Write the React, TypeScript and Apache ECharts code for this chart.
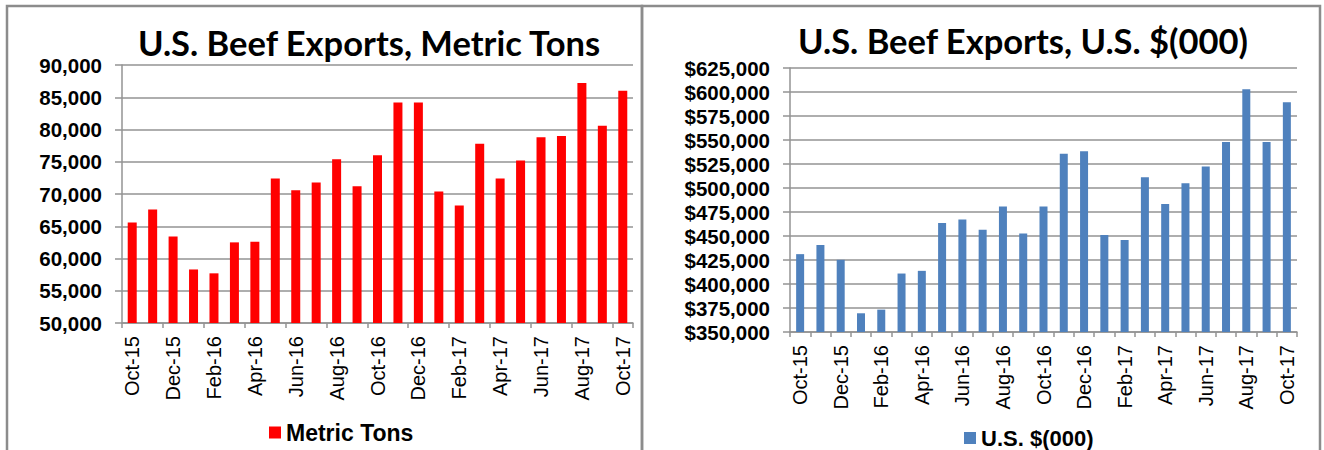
import React, { useEffect, useRef } from "react";
import * as echarts from "echarts";

const months = [
  "Oct-15", "Nov-15", "Dec-15", "Jan-16", "Feb-16", "Mar-16", "Apr-16", "May-16", "Jun-16",
  "Jul-16", "Aug-16", "Sep-16", "Oct-16", "Nov-16", "Dec-16", "Jan-17", "Feb-17", "Mar-17",
  "Apr-17", "May-17", "Jun-17", "Jul-17", "Aug-17", "Sep-17", "Oct-17",
];

const metricTons = [
  65600, 67600, 63400, 58300, 57700, 62500, 62600, 72400, 70600, 71800, 75400, 71200, 76000,
  84200, 84200, 70400, 68200, 77800, 72400, 75200, 78800, 79000, 87200, 80600, 86000,
];

const usdThousands = [
  431100, 440500, 425200, 369500, 373300, 410900, 413700, 463500, 467300, 456500, 480600,
  452700, 480600, 535600, 538400, 451000, 445800, 511200, 483400, 504900, 522400, 547800,
  602800, 547800, 589200,
];

const tonsAxis = { min: 50000, max: 90000, interval: 5000 };
const usdAxis = { min: 350000, max: 625000, interval: 25000 };

const titles = ["U.S. Beef Exports, Metric Tons", "U.S. Beef Exports, U.S. $(000)"];
const seriesNames = ["Metric Tons", "U.S. $(000)"];

const fmt = (v: number) => v.toLocaleString("en-US");

export default function App() {
  const ref = useRef<HTMLDivElement>(null);
  useEffect(() => {
    document.body.style.margin = "0";
    const chart = echarts.init(ref.current!, null, { renderer: "svg" });
    const gridColor = "#939393";
    const labelFont = "'Liberation Sans', Arial, sans-serif";
    const titleFont = "Lato, 'Open Sans', sans-serif";
    const xAxisBase = (tickInterval: number) => ({
      type: "category",
      data: months,
      boundaryGap: true,
      axisLine: { show: true, lineStyle: { color: gridColor, width: 1.5 } },
      axisTick: { show: true, interval: tickInterval, length: 5, lineStyle: { color: gridColor, width: 1.5 } },
      axisLabel: {
        interval: 1,
        rotate: 90,
        margin: 13,
        fontFamily: labelFont,
        fontSize: 20,
        color: "#000",
      },
    });
    const yAxisBase = (ax: any, prefix: string) => ({
      type: "value",
      min: ax.min,
      max: ax.max,
      interval: ax.interval,
      axisLine: { show: true, lineStyle: { color: gridColor, width: 1.5 } },
      axisTick: { show: true, length: 7, lineStyle: { color: gridColor, width: 1.5 } },
      splitLine: { show: true, lineStyle: { color: gridColor, width: 1.5 } },
      axisLabel: {
        margin: 20,
        fontFamily: labelFont,
        fontWeight: "bold",
        fontSize: 20.5,
        color: "#000",
        formatter: (v: number) => prefix + fmt(v),
      },
    });
    chart.setOption({
      animation: false,
      backgroundColor: "#fff",
      title: [
        {
          text: titles[0],
          left: 364,
          top: 20,
          textAlign: "center",
          textStyle: { fontFamily: titleFont, fontWeight: "bold", fontSize: 34.5, color: "#000" },
        },
        {
          text: titles[1],
          left: 1018,
          top: 18,
          textAlign: "center",
          textStyle: { fontFamily: titleFont, fontWeight: "bold", fontSize: 34.5, color: "#000" },
        },
      ],
      legend: [
        {
          data: [seriesNames[0]],
          left: 264,
          top: 416,
          icon: "rect",
          itemWidth: 12,
          itemHeight: 12,
          itemGap: 5,
          textStyle: { fontFamily: labelFont, fontWeight: "bold", fontSize: 23, color: "#000" },
        },
        {
          data: [seriesNames[1]],
          left: 959,
          top: 422,
          icon: "rect",
          itemWidth: 12,
          itemHeight: 12,
          textStyle: { fontFamily: labelFont, fontWeight: "bold", fontSize: 22, color: "#000" },
        },
      ],
      grid: [
        { left: 122, top: 65, width: 511, height: 258 },
        { left: 790, top: 68, width: 507, height: 264 },
      ],
      xAxis: [
        { ...xAxisBase(1), gridIndex: 0 },
        { ...xAxisBase(0), gridIndex: 1 },
      ],
      yAxis: [
        { ...yAxisBase(tonsAxis, ""), gridIndex: 0 },
        { ...yAxisBase(usdAxis, "$"), gridIndex: 1 },
      ],
      series: [
        {
          name: seriesNames[0],
          type: "bar",
          xAxisIndex: 0,
          yAxisIndex: 0,
          data: metricTons,
          barWidth: 9,
          itemStyle: { color: "#ff0000" },
        },
        {
          name: seriesNames[1],
          type: "bar",
          xAxisIndex: 1,
          yAxisIndex: 1,
          data: usdThousands,
          barWidth: 8,
          itemStyle: { color: "#4f81bd" },
        },
      ],
      graphic: [
        {
          type: "rect",
          shape: { x: 7, y: 6, width: 635, height: 460 },
          style: { fill: "none", stroke: "#8c8c8c", lineWidth: 2.5 },
          silent: true,
        },
        {
          type: "rect",
          shape: { x: 642, y: 6, width: 678, height: 460 },
          style: { fill: "none", stroke: "#8c8c8c", lineWidth: 2.5 },
          silent: true,
        },
      ],
    });
    return () => chart.dispose();
  }, []);
  return <div ref={ref} style={{ width: 1324, height: 450 }} />;
}
